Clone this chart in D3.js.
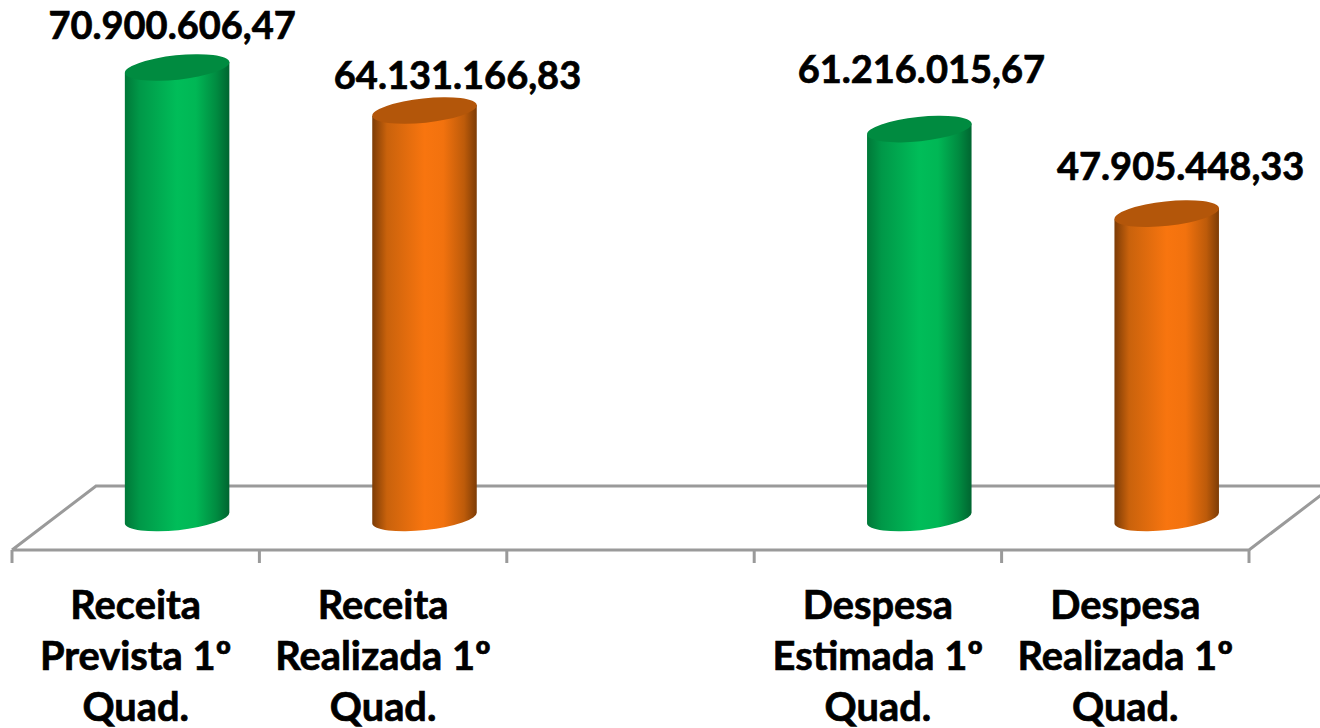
<!DOCTYPE html>
<html><head><meta charset="utf-8">
<style>html,body{margin:0;padding:0;background:#fff}svg{display:block}</style>
<script src="https://cdn.jsdelivr.net/npm/d3@7/dist/d3.min.js"></script>
</head><body><svg id="c" width="1320" height="728"></svg>
<script>
const categories = ["Receita Prevista 1º Quad.", "Receita Realizada 1º Quad.", "", "Despesa Estimada 1º Quad.", "Despesa Realizada 1º Quad."];
const categoryLines = [["Receita","Prevista 1º","Quad."],["Receita","Realizada 1º","Quad."],[],["Despesa","Estimada 1º","Quad."],["Despesa","Realizada 1º","Quad."]];
const values = [70900606.47, 64131166.83, null, 61216015.67, 47905448.33];
const valueLabels = ["70.900.606,47","64.131.166,83","","61.216.015,67","47.905.448,33"];
const kinds = ["prev","real",null,"prev","real"];

// layout
const floorFront = 550, floorBack = 486, depthX = 84, tilt = 5.6, capRy = 12.2, barW = 104.5;
const labelShift = [[-5,-28.5],[33,-22],[0,0],[2,-46.5],[14,-33.5]];
const palette = {
  prev:{stops:["#007838","#009848","#00bd59","#00b755","#008a40","#006530"],cap:"#008b40"},
  real:{stops:["#7d3c06","#c9620c","#f8750f","#f2720e","#bd5b0a","#7d3c06"],cap:"#b3560a"}
};
const stopAt = [0,.14,.5,.68,.88,1];

const svg = d3.select("#c");
const x = d3.scaleBand().domain(d3.range(categories.length)).range([12,1249]).paddingInner(0).paddingOuter(0);
const y = d3.scaleLinear().domain([0,70900606.47]).range([(floorFront+floorBack)/2, 67.5]);

const defs = svg.append("defs");
Object.entries(palette).forEach(([k,p])=>{
  const g = defs.append("linearGradient").attr("id","g-"+k).attr("x1",0).attr("x2",1).attr("y1",0).attr("y2",0);
  p.stops.forEach((c,i)=>g.append("stop").attr("offset",stopAt[i]).attr("stop-color",c));
});
const grey="#9a9a9a";
const edges = d3.range(categories.length+1).map(i=> i<categories.length ? x(i) : x(i-1)+x.step());
const floor = svg.append("g").attr("fill","none").attr("stroke",grey).attr("stroke-width",3);
floor.append("path").attr("d",d3.line()([[edges[0],floorFront],[edges[0]+depthX,floorBack],[edges[5]+depthX,floorBack],[edges[5],floorFront],[edges[0],floorFront]]));
floor.selectAll("line").data(edges).join("line").attr("x1",d=>d).attr("x2",d=>d).attr("y1",floorFront).attr("y2",floorFront+13);

const rows = d3.range(categories.length).filter(i=>values[i]!==null);
const rx = barW/2;
const a = Math.hypot(rx,tilt), rot = -Math.atan2(tilt,rx)*180/Math.PI;
const bars = svg.append("g").selectAll("g").data(rows).join("g");
const cx = i=> x(i)+x.bandwidth()/2+depthX/2-0.6;
bars.append("path").attr("fill",i=>`url(#g-${kinds[i]})`).attr("d",i=>{
  const c=cx(i), t=y(values[i]), b=y(0);
  return `M${c-rx},${t+tilt}L${c-rx},${b+tilt}A${a},${capRy} ${rot} 0 0 ${c+rx},${b-tilt}L${c+rx},${t-tilt}Z`;
});
bars.append("ellipse").attr("fill",i=>palette[kinds[i]].cap)
  .attr("rx",a).attr("ry",capRy)
  .attr("transform",i=>`translate(${cx(i)},${y(values[i])}) rotate(${rot})`);

const font = "Lato, 'Open Sans', sans-serif";
svg.append("g").selectAll("text").data(rows).join("text")
  .attr("x",i=>cx(i)+labelShift[i][0]).attr("y",i=>y(values[i])+labelShift[i][1])
  .attr("text-anchor","middle").attr("font-family",font).attr("font-weight",700).attr("font-size",38).attr("fill","#000")
  .attr("stroke","#000").attr("stroke-width",0.7)
  .text(i=>valueLabels[i]);

const cat = svg.append("g").attr("text-anchor","middle").attr("font-family",font).attr("font-weight",700).attr("font-size",39.8).attr("fill","#000")
  .attr("stroke","#000").attr("stroke-width",0.7);
rows.forEach(i=>{
  categoryLines[i].forEach((l,j)=>{
    cat.append("text").attr("x",x(i)+x.bandwidth()/2).attr("y",619+j*51).text(l);
  });
});
</script></body></html>
